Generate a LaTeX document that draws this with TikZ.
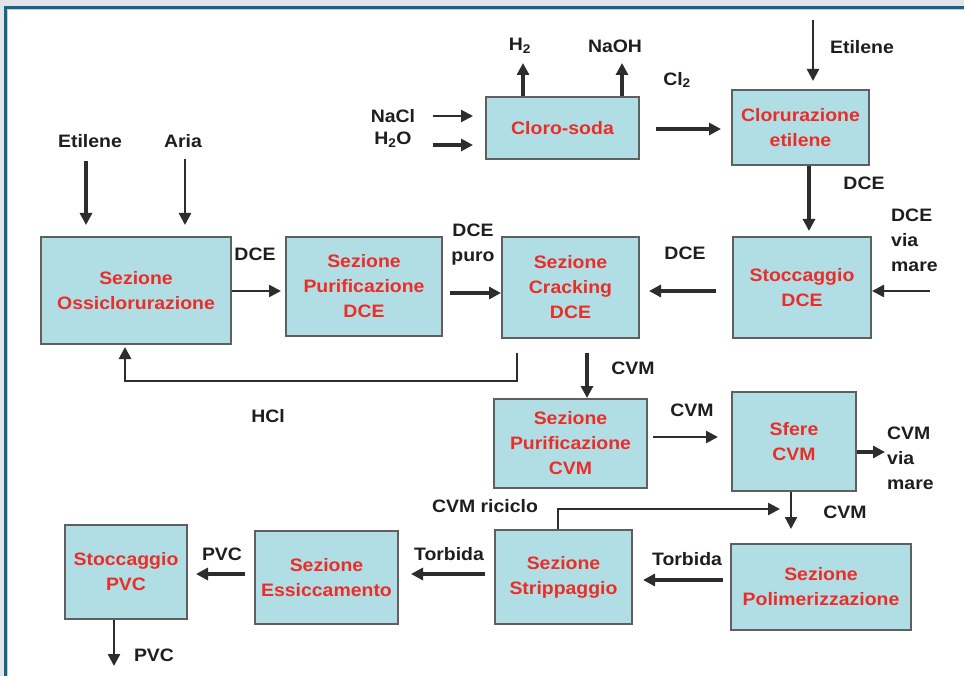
\documentclass[tikz,border=0pt]{standalone}
\usepackage{fontspec}
\setmainfont{Liberation Sans}[FakeStretch=1.08]
\usetikzlibrary{arrows.meta}
\definecolor{boxfill}{RGB}{176,222,228}
\definecolor{boxline}{RGB}{95,95,95}
\definecolor{boxtext}{RGB}{235,45,40}
\definecolor{lbl}{RGB}{30,30,30}
\definecolor{arrc}{RGB}{45,45,45}
\definecolor{framebg}{RGB}{225,228,234}
\definecolor{frameline}{RGB}{25,100,130}
\begin{document}
\begin{tikzpicture}[x=1pt,y=-1pt,
 proc/.style={draw=boxline, line width=2pt, fill=boxfill, text=boxtext,
   font=\fontsize{18}{25}\selectfont\bfseries, align=center, inner sep=0pt},
 lab/.style={text=lbl, font=\fontsize{18}{25}\selectfont\bfseries, inner sep=0pt},
 arr/.style={draw=arrc, line width=3.4pt, -{Triangle[length=12pt,width=12pt]}},
 thinarr/.style={line width=2.5pt}
]
\useasboundingbox (0,0) rectangle (964,676);
\fill[framebg] (0,0) rectangle (964,676);
\fill[white] (4,6) rectangle (964,676);
\draw[frameline, line width=3pt] (5.5,676) -- (5.5,7.5) -- (964,7.5);
\draw[frameline!30, line width=0.8pt] (7.4,676) -- (7.4,9.4) -- (964,9.4);

% boxes
\node[proc, minimum width=153pt, minimum height=62pt] (cloro) at (562.5,128) {Cloro-soda};
\node[proc, minimum width=137pt, minimum height=75pt] (clor) at (800.5,127.5) {Clorurazione\\etilene};
\node[proc, minimum width=190pt, minimum height=107pt] (ossi) at (136,290.5) {Sezione\\Ossiclorurazione};
\node[proc, minimum width=156pt, minimum height=99pt] (purdce) at (364,286.5) {Sezione\\Purificazione\\DCE};
\node[proc, minimum width=137pt, minimum height=101pt] (crack) at (570.5,287.5) {Sezione\\Cracking\\DCE};
\node[proc, minimum width=138pt, minimum height=101pt] (stocdce) at (802,287.5) {Stoccaggio\\DCE};
\node[proc, minimum width=153pt, minimum height=89pt] (purcvm) at (570.5,443.5) {Sezione\\Purificazione\\CVM};
\node[proc, minimum width=124pt, minimum height=99pt] (sfere) at (794,441.5) {Sfere\\CVM};
\node[proc, minimum width=122pt, minimum height=94pt] (stocpvc) at (126,572) {Stoccaggio\\PVC};
\node[proc, minimum width=143pt, minimum height=93pt] (essic) at (326.5,577.5) {Sezione\\Essiccamento};
\node[proc, minimum width=137pt, minimum height=94pt] (strip) at (563.5,577) {Sezione\\Strippaggio};
\node[proc, minimum width=180pt, minimum height=86pt] (polim) at (821,587) {Sezione\\Polimerizzazione};

% free ends and bends
\coordinate (h2e) at (523,63);
\coordinate (naohe) at (622,63);
\coordinate (nacls) at (433,116);
\coordinate (h2os) at (433,145);
\coordinate (et3s) at (813,20);
\coordinate (dvm) at (930,291);
\coordinate (et1s) at (86,161);
\coordinate (ars) at (185,159);
\coordinate (hclc1) at (517,381);
\coordinate (hclc2) at (125,381);
\coordinate (cvmout) at (885,452);
\coordinate (rc1) at (558,509);
\coordinate (rce) at (780,509);
\coordinate (pvce) at (114,666);

% connectors
\draw[arr] (cloro.north -| h2e) -- (h2e);
\draw[arr] (cloro.north -| naohe) -- (naohe);
\draw[arr, thinarr, shorten >=12pt] (nacls) -- (cloro.west |- nacls);
\draw[arr, shorten >=12pt] (h2os) -- (cloro.west |- h2os);
\draw[arr, shorten <=16pt, shorten >=10pt] (cloro.east |- 0,129) -- (clor.west |- 0,129);
\draw[arr, thinarr, shorten >=8pt] (et3s) -- (clor.north -| et3s);
\draw[arr, shorten >=5pt] (clor.south -| 809,0) -- (stocdce.north -| 809,0);
\draw[arr, thinarr] (dvm) -- (stocdce.east |- dvm);
\draw[arr, shorten <=16pt, shorten >=9pt] (stocdce.west |- 0,291) -- (crack.east |- 0,291);
\draw[arr, shorten <=7pt] (purdce.east |- 0,293) -- (crack.west |- 0,293);
\draw[arr, thinarr, shorten >=4pt] (ossi.east |- 0,291) -- (purdce.west |- 0,291);
\draw[arr, shorten >=11pt] (et1s) -- (ossi.north -| et1s);
\draw[arr, thinarr, shorten >=11pt] (ars) -- (ossi.north -| ars);
\draw[arr, thinarr, line width=2.8pt, shorten <=14pt, shorten >=2pt] (crack.south -| hclc1) -- (hclc1) -- (hclc2) -- (ossi.south -| hclc2);
\draw[arr, shorten <=14pt] (crack.south -| 587,0) -- (purcvm.north -| 587,0);
\draw[arr, thinarr, shorten <=5pt, shorten >=13pt] (purcvm.east |- 0,437) -- (sfere.west |- 0,437);
\draw[arr] (sfere.east |- cvmout) -- (cvmout);
\draw[arr, thinarr, shorten >=14pt] (sfere.south -| 791,0) -- (polim.north -| 791,0);
\draw[arr, thinarr] (strip.north -| rc1) -- (rc1) -- (rce);
\draw[arr, shorten <=7pt, shorten >=10pt] (polim.west |- 0,580) -- (strip.east |- 0,580);
\draw[arr, shorten <=9pt, shorten >=12pt] (strip.west |- 0,574) -- (essic.east |- 0,574);
\draw[arr, shorten <=9pt, shorten >=8pt] (essic.west |- 0,574) -- (stocpvc.east |- 0,574);
\draw[arr, thinarr] (stocpvc.south -| pvce) -- (pvce);

% labels
\node[lab] (lh2) at (520,46) {H\textsubscript{2}};
\node[lab] (lnaoh) at (615,46) {NaOH};
\node[lab] (lnacl) at (393,116) {NaCl};
\node[lab] (lh2o) at (393,140) {H\textsubscript{2}O};
\node[lab] (lcl2) at (677,80) {Cl\textsubscript{2}};
\node[lab] (let3) at (862,47) {Etilene};
\node[lab] (ldce1) at (864,183) {DCE};
\node[lab, align=left, anchor=west] (ldvm) at (891,240) {DCE\\via\\mare};
\node[lab] (ldce2) at (685,253) {DCE};
\node[lab, align=center] (ldcep) at (473,245) {DCE\\puro};
\node[lab] (ldce3) at (255,254) {DCE};
\node[lab] (let1) at (90,141) {Etilene};
\node[lab] (laria) at (183,141) {Aria};
\node[lab] (lhcl) at (268,416) {HCl};
\node[lab] (lcvm1) at (633,368) {CVM};
\node[lab] (lcvm2) at (692,410) {CVM};
\node[lab, align=left, anchor=west] (lcvm3) at (887,458) {CVM\\via\\mare};
\node[lab] (lcvm4) at (845,512) {CVM};
\node[lab] (lric) at (485,506) {CVM riciclo};
\node[lab] (ltor1) at (687,559) {Torbida};
\node[lab] (ltor2) at (449,554) {Torbida};
\node[lab] (lpvc1) at (222,554) {PVC};
\node[lab] (lpvc2) at (154,655) {PVC};
\end{tikzpicture}
\end{document}
